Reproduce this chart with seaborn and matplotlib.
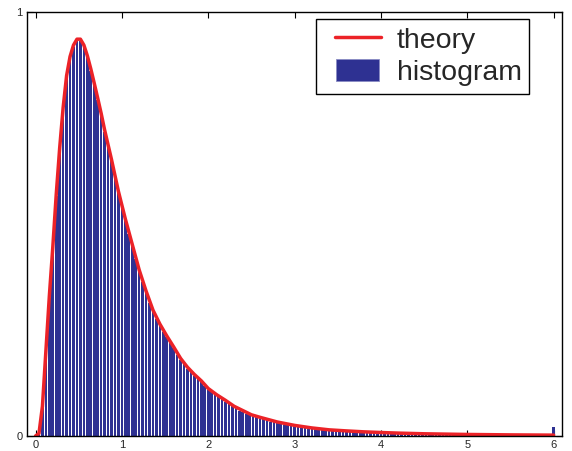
import numpy as np
import pandas as pd
import matplotlib
matplotlib.use('Agg')
import matplotlib.pyplot as plt
import seaborn as sns
from matplotlib.lines import Line2D
from matplotlib.patches import Patch
from matplotlib.legend_handler import HandlerLine2D, HandlerPatch

sns.set_style('white')
plt.rcParams['font.family'] = ['Liberation Sans', 'DejaVu Sans']

# bin centres 0, 0.04, ..., 6.0 (last bin holds everything above 6)
bin_width = 0.04
bin_centers = np.round(np.arange(0, 151) * bin_width, 2)

# bar heights, one per bin
bar_heights = [
    0.000, 0.004, 0.065, 0.195, 0.325, 0.440, 0.565, 0.675, 0.770, 0.845,
    0.890, 0.918, 0.932, 0.932, 0.918, 0.893, 0.862, 0.828, 0.793, 0.757,
    0.718, 0.683, 0.648, 0.608, 0.573, 0.538, 0.508, 0.476, 0.448, 0.418,
    0.388, 0.363, 0.338, 0.314, 0.294, 0.276, 0.261, 0.246, 0.233, 0.221,
    0.207, 0.192, 0.180, 0.169, 0.159, 0.150, 0.142, 0.135, 0.127, 0.118,
    0.109, 0.103, 0.098, 0.093, 0.087, 0.081, 0.076, 0.071, 0.065, 0.060,
    0.057, 0.053, 0.050, 0.047, 0.044, 0.041, 0.039, 0.037, 0.034, 0.032,
    0.030, 0.029, 0.027, 0.025, 0.024, 0.023, 0.021, 0.020, 0.019, 0.018,
    0.017, 0.016, 0.015, 0.015, 0.014, 0.013, 0.013, 0.012, 0.012, 0.011,
    0.011, 0.010, 0.010, 0.0095, 0.009, 0.009, 0.0085, 0.008, 0.008, 0.0075,
    0.0072, 0.007, 0.0067, 0.0064, 0.0062, 0.006, 0.0058, 0.0056, 0.0054, 0.0052,
    0.005, 0.0048, 0.0047, 0.0045, 0.0044, 0.0042, 0.0041, 0.004, 0.0038, 0.0037,
    0.0036, 0.0035, 0.0034, 0.0033, 0.0032, 0.0031, 0.003, 0.0029, 0.0029, 0.0028,
    0.0027, 0.0026, 0.0026, 0.0025, 0.0024, 0.0024, 0.0023, 0.0023, 0.0022, 0.0022,
    0.0021, 0.0021, 0.002, 0.002, 0.0019, 0.0019, 0.0018, 0.0018, 0.0018, 0.0017,
    0.021,
]

# theory curve
curve_x = [0.00, 0.04, 0.08, 0.12, 0.16, 0.20, 0.24, 0.28, 0.32, 0.36,
           0.40, 0.44, 0.48, 0.52, 0.56, 0.60, 0.64, 0.68, 0.72, 0.76,
           0.80, 0.88, 0.96, 1.04, 1.12, 1.20, 1.28, 1.36, 1.44, 1.52,
           1.60, 1.68, 1.76, 1.84, 1.92, 2.00, 2.10, 2.20, 2.30, 2.40,
           2.50, 2.60, 2.80, 3.00, 3.20, 3.40, 3.60, 3.80, 4.00, 4.20,
           4.50, 5.00, 5.50, 6.00]
curve_y = [0.000, 0.006, 0.070, 0.200, 0.330, 0.445, 0.570, 0.680, 0.775, 0.850,
           0.895, 0.922, 0.936, 0.936, 0.922, 0.897, 0.866, 0.832, 0.797, 0.761,
           0.722, 0.652, 0.577, 0.512, 0.452, 0.392, 0.342, 0.297, 0.264, 0.236,
           0.210, 0.183, 0.162, 0.145, 0.130, 0.112, 0.097, 0.084, 0.070, 0.060,
           0.050, 0.044, 0.033, 0.025, 0.019, 0.0145, 0.012, 0.0098, 0.0082, 0.0068,
           0.0052, 0.0036, 0.0026, 0.0020]

navy = '#2e3192'
red = '#ec2227'

hist_df = pd.DataFrame({'center': bin_centers, 'height': bar_heights})
edges = list(np.append(bin_centers - bin_width / 2, bin_centers[-1] + bin_width / 2))

fig = plt.figure(figsize=(5.72, 4.51), dpi=100)
ax = fig.add_axes([0.047, 0.0333, 0.936, 0.94])

sns.histplot(data=hist_df, x='center', weights='height', bins=edges, shrink=0.75,
             color=navy, edgecolor='none', alpha=1, ax=ax)
sns.lineplot(x=curve_x, y=curve_y, color=red, linewidth=2.5, ax=ax,
             solid_capstyle='round')

ax.set_xlim(-0.1, 6.1)
ax.set_ylim(0, 1)
ax.set_xticks(range(7))
ax.set_yticks([0, 1])
ax.set_xlabel('')
ax.set_ylabel('')
ax.tick_params(direction='in', length=4, width=0.8, labelsize=8, pad=3,
               top=True, right=True, bottom=True, left=True, color='black')
for s in ax.spines.values():
    s.set_color('black')
    s.set_linewidth(1.0)


# legend handles sit a bit right of the frame edge, like the original
SHIFT = 8  # px


class ShiftLine(HandlerLine2D):
    def create_artists(self, legend, orig_handle, xdescent, ydescent, width,
                       height, fontsize, trans):
        return super().create_artists(legend, orig_handle, xdescent - SHIFT, ydescent,
                                      width - SHIFT, height, fontsize, trans)


class ShiftPatch(HandlerPatch):
    def create_artists(self, legend, orig_handle, xdescent, ydescent, width,
                       height, fontsize, trans):
        return super().create_artists(legend, orig_handle, xdescent - SHIFT - 1, ydescent,
                                      width - SHIFT - 2, height, fontsize, trans)


line_h = Line2D([0], [0], color=red, linewidth=2.5)
patch_h = Patch(facecolor=navy, edgecolor='#8a8cc4', linewidth=0.6)
leg = ax.legend([line_h, patch_h], ['theory', 'histogram'], loc='upper left',
                bbox_to_anchor=(0.540, 0.983), borderaxespad=0, fontsize=20.5,
                fancybox=False, framealpha=1, edgecolor='black',
                handlelength=2.0, handleheight=0.83, handletextpad=0.56,
                borderpad=0.27, labelspacing=0.18,
                handler_map={line_h: ShiftLine(), patch_h: ShiftPatch()})
leg.get_frame().set_linewidth(1.0)
leg.get_frame().set_boxstyle('square', pad=0)

fig.savefig('out.png', dpi=100)
